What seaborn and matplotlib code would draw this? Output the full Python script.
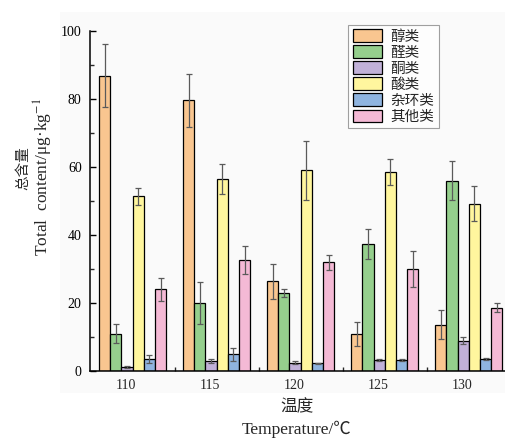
import numpy as np
import pandas as pd
import matplotlib
matplotlib.use("Agg")
import matplotlib.pyplot as plt
import matplotlib.patches as mpatches
import seaborn as sns

# ---- data ----
temps = ["110", "115", "120", "125", "130"]
classes = ["醇类", "醛类", "酮类", "酸类", "杂环类", "其他类"]
alcohols = [86.9, 79.6, 26.4, 10.8, 13.6]
alcohols_err = [9.3, 7.8, 5.1, 3.5, 4.3]
aldehydes = [11.0, 20.1, 23.0, 37.4, 56.0]
aldehydes_err = [2.7, 6.2, 1.1, 4.4, 5.8]
ketones = [1.2, 3.0, 2.5, 3.2, 8.9]
ketones_err = [0.4, 0.5, 0.3, 0.3, 1.1]
acids = [51.4, 56.6, 59.0, 58.6, 49.2]
acids_err = [2.5, 4.4, 8.7, 3.9, 5.2]
heterocycles = [3.5, 4.9, 2.3, 3.1, 3.5]
heterocycles_err = [1.2, 1.9, 0.2, 0.3, 0.3]
others = [24.0, 32.7, 32.0, 30.0, 18.6]
others_err = [3.5, 4.1, 2.2, 5.3, 1.3]
yticks = [0, 20, 40, 60, 80, 100]

series = [alcohols, aldehydes, ketones, acids, heterocycles, others]
errors = [alcohols_err, aldehydes_err, ketones_err, acids_err, heterocycles_err, others_err]
colors = ["#F9C690", "#95CF8D", "#C1B1D8", "#FFF69E", "#8FB4DF", "#F4B9D5"]

rows = []
for c, vals, errs in zip(classes, series, errors):
    for t, v, e in zip(temps, vals, errs):
        rows.append({"temp": t, "class": c, "value": v, "err": e})
df = pd.DataFrame(rows)

sns.set_theme(style="ticks")
plt.rcParams["font.family"] = ["Liberation Serif", "Noto Sans CJK SC"]
plt.rcParams["mathtext.fontset"] = "stix"

fig = plt.figure(figsize=(5.05, 4.38), dpi=100)
fig.patches.append(mpatches.Rectangle((60 / 505, 1 - 393 / 438), 445 / 505, 381 / 438,
                                      transform=fig.transFigure, facecolor="#fafafa",
                                      edgecolor="none", zorder=-10))
ax = fig.add_axes([90 / 505, 67 / 438, 415 / 505, 340 / 438])
ax.set_facecolor("none")

sns.barplot(data=df, x="temp", y="value", hue="class", order=temps, hue_order=classes,
            palette=colors, saturation=1, edgecolor="black", linewidth=0.9,
            errorbar=None, width=0.8, ax=ax, zorder=2)

for cont, errs in zip(ax.containers, errors):
    xs = [b.get_x() + b.get_width() / 2 for b in cont]
    hs = [b.get_height() for b in cont]
    ax.errorbar(xs, hs, yerr=errs, fmt="none", ecolor="#5a5a5a", elinewidth=0.9,
                capsize=2.5, capthick=0.9, zorder=3)

ax.set_ylim(0, 100)
ax.set_xlim(-0.506, 4.43)
ax.set_yticks(yticks)
ax.set_yticks(np.arange(10, 100, 20), minor=True)
ax.tick_params(axis="y", which="major", direction="in", length=4, width=1, pad=6,
               labelsize=10, colors="black")
ax.tick_params(axis="y", which="minor", direction="in", length=3, width=1)
ax.set_xticks(np.arange(len(temps)) - 0.08)
ax.set_xticklabels(temps)
ax.set_xticks(np.arange(len(temps) - 1) + 0.5, minor=True)
ax.tick_params(axis="x", which="major", length=0, pad=6, labelsize=10)
ax.tick_params(axis="x", which="minor", direction="in", length=3, width=1)
for s in ["top", "right"]:
    ax.spines[s].set_visible(False)
for s in ["left", "bottom"]:
    ax.spines[s].set_linewidth(1.1)
    ax.spines[s].set_color("black")
ax.set_xlabel("")
ax.set_ylabel("")

# legend
if ax.get_legend() is not None:
    ax.get_legend().remove()
handles = [mpatches.Patch(facecolor=c, edgecolor="black", linewidth=0.9) for c in colors]
leg = ax.legend(handles, classes, loc="upper left", bbox_to_anchor=(0.622, 1.018),
                frameon=True, fancybox=False, edgecolor="#888888", fontsize=10.5,
                handlelength=2.0, handleheight=0.95, labelspacing=0.12,
                handletextpad=0.6, borderpad=0.3, borderaxespad=0)
leg.get_frame().set_linewidth(0.8)

# axis labels as text
fig.text(23 / 505, 1 - 168 / 438, "总含量", rotation=90, ha="center", va="center",
         fontsize=10.5, family=["Noto Sans CJK SC"])
fig.text(43 / 505, 1 - 177 / 438, "Total  content/μg·kg$^{-1}$", rotation=90,
         ha="center", va="center", fontsize=12.5)
fig.text(297 / 505, 1 - 407 / 438, "温度", ha="center", va="center", fontsize=12,
         family=["Noto Sans CJK SC"])
fig.text(297 / 505, 1 - 429 / 438, "Temperature/℃", ha="center", va="center",
         fontsize=12.5)

fig.savefig("out.png", dpi=100)
